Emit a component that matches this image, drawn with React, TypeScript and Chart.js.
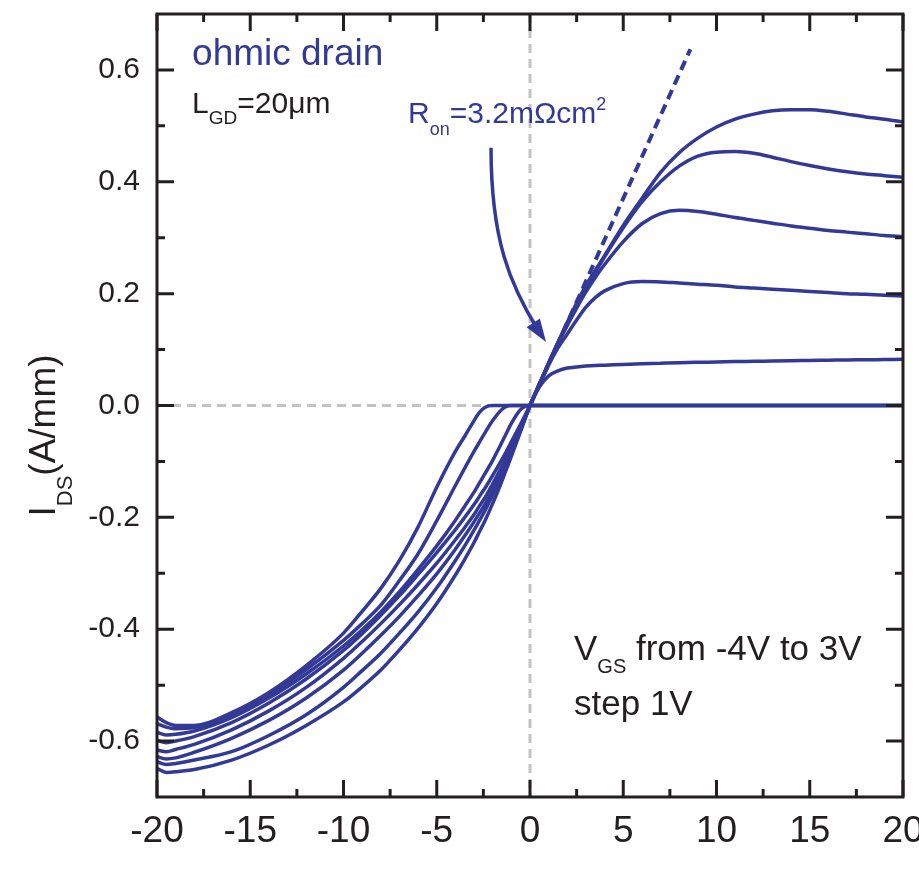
import React, { useEffect, useRef } from 'react';
import { Chart, registerables } from 'chart.js';

Chart.register(...registerables);

// ---------- data ----------
// drain-source voltage grid (V)
const VDS = [
  -20, -19.5, -19, -18, -16, -14, -12, -10, -9, -8, -7, -6, -5, -4, -3.5, -3, -2.7, -2.4, -2, -1.6, -1.3, -1, -0.5,
  0, 0.5, 1, 1.5, 2, 2.5, 3, 3.5, 4, 5, 6, 7, 8, 9, 10, 11, 12, 13, 14, 15, 16, 17, 18, 19, 20,
];

const VGS_STEPS = [-4, -3, -2, -1, 0, 1, 2, 3];

// I_DS (A/mm) for each gate voltage, on the VDS grid
const IDS_VGS_M4 = [
  -0.557, -0.567, -0.572, -0.572, -0.549, -0.513, -0.465, -0.407, -0.368, -0.327, -0.277, -0.217, -0.146, -0.082, -0.055, -0.027, -0.012, -0.003, 0, 0, 0, 0, 0,
  0, 0, 0, 0, 0, 0, 0, 0, 0, 0, 0, 0, 0, 0, 0, 0, 0, 0, 0, 0, 0, 0, 0, 0, 0,
];
const IDS_VGS_M3 = [
  -0.569, -0.575, -0.578, -0.576, -0.553, -0.518, -0.472, -0.42, -0.39, -0.357, -0.313, -0.265, -0.206, -0.143, -0.112, -0.082, -0.065, -0.048, -0.027, -0.01, -0.002, 0, 0,
  0, 0, 0, 0, 0, 0, 0, 0, 0, 0, 0, 0, 0, 0, 0, 0, 0, 0, 0, 0, 0, 0, 0, 0, 0,
];
const IDS_VGS_M2 = [
  -0.584, -0.589, -0.588, -0.582, -0.558, -0.523, -0.48, -0.43, -0.401, -0.369, -0.333, -0.293, -0.251, -0.205, -0.18, -0.155, -0.138, -0.121, -0.098, -0.072, -0.052, -0.032, -0.007,
  0, 0, 0, 0, 0, 0, 0, 0, 0, 0, 0, 0, 0, 0, 0, 0, 0, 0, 0, 0, 0, 0, 0, 0, 0,
];
const IDS_VGS_M1 = [
  -0.599, -0.603, -0.6, -0.592, -0.567, -0.532, -0.489, -0.438, -0.408, -0.375, -0.34, -0.302, -0.263, -0.222, -0.2, -0.177, -0.162, -0.147, -0.125, -0.102, -0.084, -0.065, -0.033,
  0, 0.033, 0.053, 0.062, 0.067, 0.069, 0.0705, 0.0715, 0.072, 0.0735, 0.0745, 0.0755, 0.0765, 0.0772, 0.0778, 0.0785, 0.079, 0.0795, 0.08, 0.0805, 0.081, 0.0815, 0.0818, 0.0822, 0.0826,
];
const IDS_VGS_0 = [
  -0.616, -0.619, -0.615, -0.606, -0.58, -0.546, -0.504, -0.452, -0.422, -0.39, -0.356, -0.32, -0.282, -0.24, -0.218, -0.195, -0.179, -0.164, -0.14, -0.115, -0.095, -0.074, -0.038,
  0, 0.037, 0.072, 0.103, 0.128, 0.153, 0.176, 0.193, 0.205, 0.218, 0.2215, 0.221, 0.219, 0.217, 0.215, 0.212, 0.21, 0.208, 0.206, 0.204, 0.202, 0.2, 0.199, 0.197, 0.196,
];
const IDS_VGS_P1 = [
  -0.628, -0.632, -0.63, -0.62, -0.595, -0.563, -0.523, -0.473, -0.443, -0.411, -0.377, -0.34, -0.301, -0.257, -0.233, -0.208, -0.192, -0.176, -0.151, -0.124, -0.102, -0.08, -0.041,
  0, 0.038, 0.075, 0.11, 0.143, 0.174, 0.203, 0.229, 0.252, 0.293, 0.325, 0.343, 0.349, 0.347, 0.342, 0.336, 0.331, 0.326, 0.321, 0.317, 0.313, 0.31, 0.307, 0.304, 0.302,
];
const IDS_VGS_P2 = [
  -0.637, -0.642, -0.64, -0.634, -0.619, -0.59, -0.553, -0.504, -0.474, -0.443, -0.407, -0.369, -0.326, -0.277, -0.251, -0.223, -0.205, -0.187, -0.16, -0.131, -0.108, -0.084, -0.043,
  0, 0.038, 0.076, 0.112, 0.147, 0.18, 0.211, 0.238, 0.266, 0.318, 0.364, 0.4, 0.428, 0.446, 0.453, 0.454, 0.451, 0.444, 0.436, 0.429, 0.423, 0.418, 0.414, 0.411, 0.408,
];
const IDS_VGS_P3 = [
  -0.649, -0.656, -0.655, -0.651, -0.634, -0.607, -0.572, -0.53, -0.503, -0.473, -0.437, -0.398, -0.354, -0.303, -0.275, -0.245, -0.225, -0.205, -0.175, -0.143, -0.117, -0.091, -0.046,
  0, 0.038, 0.076, 0.113, 0.149, 0.183, 0.215, 0.242, 0.268, 0.322, 0.37, 0.417, 0.452, 0.478, 0.498, 0.512, 0.521, 0.527, 0.529, 0.529, 0.526, 0.521, 0.516, 0.512, 0.507,
];

// on-resistance fit line (dashed)
const RON_V = [0, 8.6];
const RON_I = [0, 0.637];

// axis ticks
const X_TICKS = [-20, -15, -10, -5, 0, 5, 10, 15, 20];
const Y_TICKS = [-0.6, -0.4, -0.2, 0, 0.2, 0.4, 0.6];

// ---------- styles ----------
const BLUE = '#333996';
const INK = '#231f20';
const GRAY = '#c3c3c7';
const FONT = "'Liberation Sans', Arial, Helvetica, sans-serif";

type Part = { t: string; size: number; dy?: number };

function richText(ctx: CanvasRenderingContext2D, x: number, y: number, parts: Part[], color: string) {
  let cx = x;
  ctx.fillStyle = color;
  ctx.textAlign = 'left';
  ctx.textBaseline = 'alphabetic';
  for (const p of parts) {
    ctx.font = `${p.size}px ${FONT}`;
    ctx.fillText(p.t, cx, y + (p.dy || 0));
    cx += ctx.measureText(p.t).width;
  }
}

// annotation anchors (data coordinates)
const NOTES: { at: [number, number]; parts: Part[]; color: string }[] = [
  { at: [-18.12, 0.609], parts: [{ t: 'ohmic drain', size: 37 }], color: BLUE },
  { at: [-18.12, 0.523], parts: [{ t: 'L', size: 30 }, { t: 'GD', size: 19, dy: 11 }, { t: '=20μm', size: 30 }], color: INK },
  {
    at: [-6.54, 0.505],
    parts: [{ t: 'R', size: 30 }, { t: 'on', size: 18, dy: 12 }, { t: '=3.2mΩcm', size: 30 }, { t: '2', size: 18, dy: -13 }],
    color: BLUE,
  },
  { at: [2.36, -0.455], parts: [{ t: 'V', size: 35 }, { t: 'GS', size: 20, dy: 13 }, { t: ' from -4V to 3V', size: 35 }], color: INK },
  { at: [2.36, -0.554], parts: [{ t: 'step 1V', size: 35 }], color: INK },
];

const ARROW_PTS: [number, number][] = [
  [-2.09, 0.461],
  [-2.09, 0.296],
  [-1.07, 0.216],
  [0.43, 0.135],
];
const ARROW_TIP: [number, number] = [0.86, 0.1136];

const framePlugin = {
  id: 'ohmicFrame',
  beforeDatasetsDraw(chart: any) {
    const { ctx, chartArea: a, scales } = chart;
    const x = scales.x, y = scales.y;
    ctx.save();
    ctx.beginPath();
    ctx.rect(a.left, a.top, a.right - a.left, a.bottom - a.top);
    ctx.clip();
    ctx.strokeStyle = GRAY;
    ctx.lineWidth = 3;
    ctx.setLineDash([9, 6]);
    const x0 = x.getPixelForValue(0);
    const y0 = y.getPixelForValue(0);
    ctx.beginPath();
    ctx.moveTo(x0, a.top);
    ctx.lineTo(x0, a.bottom);
    ctx.stroke();
    ctx.beginPath();
    ctx.moveTo(a.left, y0);
    ctx.lineTo(a.right, y0);
    ctx.stroke();
    ctx.restore();
  },
  afterDatasetsDraw(chart: any) {
    const { ctx, chartArea: a, scales } = chart;
    const x = scales.x, y = scales.y;
    ctx.save();
    // frame
    ctx.strokeStyle = INK;
    ctx.lineWidth = 3;
    ctx.setLineDash([]);
    ctx.strokeRect(a.left, a.top, a.right - a.left, a.bottom - a.top);
    const MAJ = 17, MIN = 8;
    ctx.beginPath();
    const xt = x.ticks.map((t: any) => t.value);
    for (let i = 0; i < xt.length; i++) {
      const px = x.getPixelForValue(xt[i]);
      ctx.moveTo(px, a.bottom); ctx.lineTo(px, a.bottom - MAJ);
      ctx.moveTo(px, a.top); ctx.lineTo(px, a.top + MAJ);
      if (i < xt.length - 1) {
        const pm = x.getPixelForValue((xt[i] + xt[i + 1]) / 2);
        ctx.moveTo(pm, a.bottom); ctx.lineTo(pm, a.bottom - MIN);
        ctx.moveTo(pm, a.top); ctx.lineTo(pm, a.top + MIN);
      }
    }
    const yt = y.ticks.map((t: any) => t.value);
    for (let i = 0; i < yt.length; i++) {
      const py = y.getPixelForValue(yt[i]);
      ctx.moveTo(a.left, py); ctx.lineTo(a.left + MAJ, py);
      ctx.moveTo(a.right, py); ctx.lineTo(a.right - MAJ, py);
      if (i < yt.length - 1) {
        const pm = y.getPixelForValue((yt[i] + yt[i + 1]) / 2);
        ctx.moveTo(a.left, pm); ctx.lineTo(a.left + MIN, pm);
        ctx.moveTo(a.right, pm); ctx.lineTo(a.right - MIN, pm);
      }
    }
    ctx.stroke();

    // annotations
    for (const n of NOTES) {
      richText(ctx, x.getPixelForValue(n.at[0]), y.getPixelForValue(n.at[1]), n.parts, n.color);
    }

    // arrow
    const P = ARROW_PTS.map(([vx, vy]) => [x.getPixelForValue(vx), y.getPixelForValue(vy)]);
    const T = [x.getPixelForValue(ARROW_TIP[0]), y.getPixelForValue(ARROW_TIP[1])];
    ctx.strokeStyle = BLUE;
    ctx.fillStyle = BLUE;
    ctx.lineWidth = 3.5;
    ctx.beginPath();
    ctx.moveTo(P[0][0], P[0][1]);
    ctx.bezierCurveTo(P[1][0], P[1][1], P[2][0], P[2][1], P[3][0], P[3][1]);
    ctx.stroke();
    const ang = Math.atan2(T[1] - P[3][1], T[0] - P[3][0]);
    const L = 23, W = 8;
    const bx = T[0] - L * Math.cos(ang), by = T[1] - L * Math.sin(ang);
    ctx.beginPath();
    ctx.moveTo(T[0], T[1]);
    ctx.lineTo(bx + W * Math.sin(ang), by - W * Math.cos(ang));
    ctx.lineTo(bx - W * Math.sin(ang), by + W * Math.cos(ang));
    ctx.closePath();
    ctx.fill();

    // y axis title
    ctx.save();
    ctx.translate(55, (a.top + a.bottom) / 2 + 111);
    ctx.rotate(-Math.PI / 2);
    richText(ctx, 0, 0, [{ t: 'I', size: 37 }, { t: 'DS', size: 22, dy: 17 }, { t: '(A/mm)', size: 37 }], INK);
    ctx.restore();

    ctx.restore();
  },
};

export default function App() {
  const ref = useRef<HTMLCanvasElement>(null);
  useEffect(() => {
    const canvas = ref.current;
    if (!canvas) return;
    const curves = [IDS_VGS_M4, IDS_VGS_M3, IDS_VGS_M2, IDS_VGS_M1, IDS_VGS_0, IDS_VGS_P1, IDS_VGS_P2, IDS_VGS_P3];
    const datasets: any[] = curves.map((arr, i) => ({
      label: `VGS=${VGS_STEPS[i]}V`,
      data: VDS.map((v, j) => ({ x: v, y: arr[j] })),
      borderColor: BLUE,
      borderWidth: 3.5,
      pointRadius: 0,
      cubicInterpolationMode: 'monotone',
      fill: false,
    }));
    datasets.push({
      label: 'Ron',
      data: RON_V.map((v, j) => ({ x: v, y: RON_I[j] })),
      borderColor: BLUE,
      borderWidth: 4,
      borderDash: [10, 6],
      pointRadius: 0,
      tension: 0,
      fill: false,
    });
    const chart = new Chart(canvas, {
      type: 'line',
      data: { datasets },
      options: {
        responsive: false,
        animation: false,
        devicePixelRatio: 1,
        layout: { padding: { top: 14, right: 16, left: 0, bottom: 0 } },
        plugins: { legend: { display: false }, tooltip: { enabled: false }, title: { display: false } },
        scales: {
          x: {
            type: 'linear',
            min: -20,
            max: 20,
            grid: { display: false, drawTicks: false },
            border: { display: false },
            afterBuildTicks: (s: any) => {
              s.ticks = X_TICKS.map((v) => ({ value: v }));
            },
            ticks: {
              padding: 13,
              color: INK,
              font: { family: FONT, size: 37 },
              autoSkip: false,
              maxRotation: 0,
              callback: (v: any) => String(v),
            },
            afterFit: (s: any) => {
              s.height = 76;
              s.paddingLeft = 0;
              s.paddingRight = 0;
            },
          },
          y: {
            type: 'linear',
            min: -0.7,
            max: 0.7,
            grid: { display: false, drawTicks: false },
            border: { display: false },
            afterBuildTicks: (s: any) => {
              s.ticks = Y_TICKS.map((v) => ({ value: v }));
            },
            ticks: {
              padding: 17,
              color: INK,
              font: { family: FONT, size: 30 },
              autoSkip: false,
              callback: (v: any) => Number(v).toFixed(1),
            },
            afterFit: (s: any) => {
              s.width = 157;
              s.paddingTop = 0;
              s.paddingBottom = 0;
            },
          },
        },
      } as any,
      plugins: [framePlugin],
    });
    return () => chart.destroy();
  }, []);
  return (
    <div style={{ position: 'absolute', left: 0, top: 0, width: 919, height: 873, background: '#fff' }}>
      <canvas ref={ref} width={919} height={873} style={{ display: 'block' }} />
    </div>
  );
}
